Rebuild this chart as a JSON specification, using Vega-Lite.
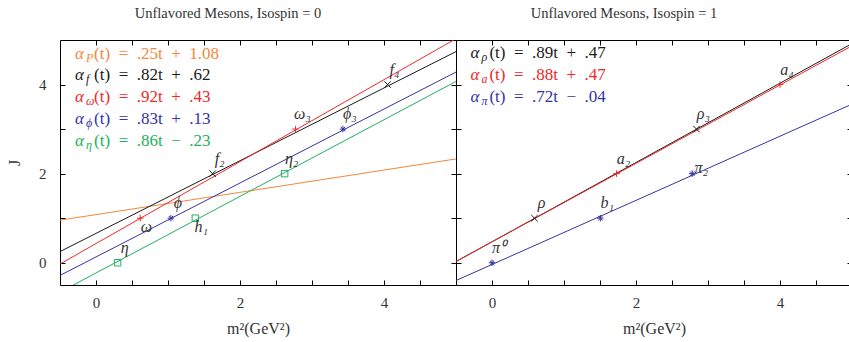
{
  "$schema": "https://vega.github.io/schema/vega-lite/v6.json",
  "background": "white",
  "padding": {"left": 6, "top": 5, "right": 0, "bottom": 0},
  "spacing": 0,
  "bounds": "flush",
  "config": {
    "view": {"stroke": "#000", "strokeWidth": 1},
    "font": "Liberation Serif",
    "axis": {"grid": false, "domain": false, "labelFont": "Liberation Serif", "titleFont": "Liberation Serif", "labelColor": "#333", "titleColor": "#333", "titleFontWeight": "normal", "tickColor": "#000", "tickWidth": 1},
    "title": {"font": "Liberation Serif", "fontSize": 14.5, "fontWeight": "normal", "color": "#333", "baseline": "alphabetic", "offset": 18, "anchor": "middle"}
  },
  "datasets": {
    "lines": [
      {"panel": "L", "series": "P", "x": -0.5, "J": 0.955}, {"panel": "L", "series": "P", "x": 5, "J": 2.33},
      {"panel": "L", "series": "f", "x": -0.5, "J": 0.25}, {"panel": "L", "series": "f", "x": 5, "J": 4.74},
      {"panel": "L", "series": "omega", "x": -0.5, "J": -0.03}, {"panel": "L", "series": "omega", "x": 5, "J": 5.03},
      {"panel": "L", "series": "phi", "x": -0.5, "J": -0.285}, {"panel": "L", "series": "phi", "x": 5, "J": 4.28},
      {"panel": "L", "series": "eta", "x": -0.5, "J": -0.66}, {"panel": "L", "series": "eta", "x": 5, "J": 4.07},
      {"panel": "R", "series": "rho", "x": -0.5, "J": 0.025}, {"panel": "R", "series": "rho", "x": 5, "J": 4.92},
      {"panel": "R", "series": "a", "x": -0.5, "J": 0.03}, {"panel": "R", "series": "a", "x": 5, "J": 4.87},
      {"panel": "R", "series": "pi", "x": -0.5, "J": -0.4}, {"panel": "R", "series": "pi", "x": 5, "J": 3.56}
    ],
    "points": [
      {"panel": "L", "series": "eta", "name": "η", "x": 0.30, "J": 0, "pos": "above"},
      {"panel": "L", "series": "eta", "name": "h₁", "x": 1.38, "J": 1, "pos": "below"},
      {"panel": "L", "series": "eta", "name": "η₂", "x": 2.62, "J": 2, "pos": "above"},
      {"panel": "L", "series": "omega", "name": "ω", "x": 0.615, "J": 1, "pos": "below"},
      {"panel": "L", "series": "omega", "name": "ω₃", "x": 2.77, "J": 3, "pos": "above"},
      {"panel": "L", "series": "phi", "name": "ϕ", "x": 1.04, "J": 1, "pos": "above"},
      {"panel": "L", "series": "phi", "name": "ϕ₃", "x": 3.43, "J": 3, "pos": "above"},
      {"panel": "L", "series": "f", "name": "f₂", "x": 1.62, "J": 2, "pos": "above"},
      {"panel": "L", "series": "f", "name": "f₄", "x": 4.05, "J": 4, "pos": "above"},
      {"panel": "R", "series": "pi", "name": "π⁰", "x": 0.0, "J": 0, "pos": "above"},
      {"panel": "R", "series": "pi", "name": "b₁", "x": 1.505, "J": 1, "pos": "above"},
      {"panel": "R", "series": "pi", "name": "π₂", "x": 2.78, "J": 2, "pos": "right"},
      {"panel": "R", "series": "rho", "name": "ρ", "x": 0.59, "J": 1, "pos": "above"},
      {"panel": "R", "series": "rho", "name": "ρ₃", "x": 2.84, "J": 3, "pos": "above"},
      {"panel": "R", "series": "a", "name": "a₂", "x": 1.73, "J": 2, "pos": "above"},
      {"panel": "R", "series": "a", "name": "a₄", "x": 4.0, "J": 4, "pos": "above"}
    ],
    "eqs": [
      {"panel": "L", "series": "P", "sub": "P", "rest": "(t)\u2002=\u2002.25t\u2002+\u20021.08", "x": -0.29, "J": 4.69},
      {"panel": "L", "series": "f", "sub": "f", "rest": "(t)\u2002=\u2002.82t\u2002+\u2002.62", "x": -0.29, "J": 4.22},
      {"panel": "L", "series": "omega", "sub": "ω", "rest": "(t)\u2002=\u2002.92t\u2002+\u2002.43", "x": -0.29, "J": 3.72},
      {"panel": "L", "series": "phi", "sub": "ϕ", "rest": "(t)\u2002=\u2002.83t\u2002+\u2002.13", "x": -0.29, "J": 3.23},
      {"panel": "L", "series": "eta", "sub": "η", "rest": "(t)\u2002=\u2002.86t\u2002\u2212\u2002.23", "x": -0.29, "J": 2.74},
      {"panel": "R", "series": "rho", "sub": "ρ", "rest": "(t)\u2002=\u2002.89t\u2002+\u2002.47", "x": -0.30, "J": 4.71},
      {"panel": "R", "series": "a", "sub": "a", "rest": "(t)\u2002=\u2002.88t\u2002+\u2002.47", "x": -0.30, "J": 4.21},
      {"panel": "R", "series": "pi", "sub": "π", "rest": "(t)\u2002=\u2002.72t\u2002\u2212\u2002.04", "x": -0.30, "J": 3.72}
    ]
  },
  "hconcat": [
    {
      "width": 396,
      "height": 245,
      "title": {"text": "Unflavored Mesons, Isospin = 0", "dx": -30},
      "resolve": {"axis": {"x": "independent", "y": "independent"}},
      "layer": [
        {
          "data": {"name": "lines"},
          "transform": [{"filter": "datum.panel == 'L'"}],
          "mark": {"type": "line", "clip": true, "strokeWidth": 1},
          "encoding": {
            "x": {"field": "x", "type": "quantitative", "scale": {"domain": [-0.5, 5], "nice": false, "zero": false},
              "axis": {"orient": "bottom", "values": [0, 2, 4], "ticks": false, "labelFontSize": 15, "labelPadding": 10, "title": "m²(GeV²)", "titleFontSize": 16, "titlePadding": 10}},
            "y": {"field": "J", "type": "quantitative", "scale": {"domain": [-0.5, 5], "nice": false, "zero": false},
              "axis": {"orient": "left", "values": [0, 2, 4], "ticks": false, "labelFontSize": 15, "labelPadding": 14, "title": "J", "titleFontSize": 16, "titlePadding": 16}},
            "color": {"field": "series", "type": "nominal", "legend": null,
              "scale": {"domain": ["P", "f", "omega", "phi", "eta", "rho", "a", "pi"], "range": ["#f4883c", "#1a1a1a", "#f0282a", "#3434a4", "#22b060", "#1a1a1a", "#f0282a", "#3434a4"]}}
          }
        },
        {
          "data": {"name": "points"},
          "transform": [{"filter": "datum.panel == 'L'"}],
          "mark": {"type": "point", "filled": false, "strokeWidth": 1, "size": 42, "opacity": 1},
          "encoding": {
            "x": {"field": "x", "type": "quantitative", "axis": {"orient": "bottom", "values": [0, 0.5, 1, 1.5, 2, 2.5, 3, 3.5, 4, 4.5], "labels": false, "tickSize": -5, "title": null}},
            "y": {"field": "J", "type": "quantitative", "axis": {"orient": "left", "values": [0, 1, 2, 3, 4], "labels": false, "tickSize": -5, "title": null}},
            "color": {"field": "series", "type": "nominal", "legend": null},
            "shape": {"field": "series", "type": "nominal", "legend": null,
              "scale": {"domain": ["f", "rho", "omega", "a", "phi", "pi", "eta"], "range": ["M-1,-1L1,1M-1,1L1,-1", "M-1,-1L1,1M-1,1L1,-1", "M-1,0L1,0M0,-1L0,1", "M-1,0L1,0M0,-1L0,1", "M-1,0L1,0M0,-1L0,1M-0.7,-0.7L0.7,0.7M-0.7,0.7L0.7,-0.7", "M-1,0L1,0M0,-1L0,1M-0.7,-0.7L0.7,0.7M-0.7,0.7L0.7,-0.7", "square"]}}
          }
        },
        {
          "data": {"name": "points"},
          "transform": [{"filter": "datum.panel == 'L' && datum.pos == 'above'"}],
          "mark": {"type": "text", "font": "Liberation Serif", "fontStyle": "italic", "fontSize": 16, "color": "#333", "dx": 7, "dy": -15, "align": "center", "baseline": "middle"},
          "encoding": {
            "x": {"field": "x", "type": "quantitative", "axis": {"orient": "top", "values": [0, 0.5, 1, 1.5, 2, 2.5, 3, 3.5, 4, 4.5], "labels": false, "tickSize": -5, "title": null}},
            "y": {"field": "J", "type": "quantitative", "axis": {"orient": "right", "values": [0, 1, 2, 3, 4], "labels": false, "tickSize": -5, "title": null}},
            "text": {"field": "name"}
          }
        },
        {
          "data": {"name": "points"},
          "transform": [{"filter": "datum.panel == 'L' && datum.pos == 'below'"}],
          "mark": {"type": "text", "font": "Liberation Serif", "fontStyle": "italic", "fontSize": 16, "color": "#333", "dx": 6, "dy": 9, "align": "center", "baseline": "middle"},
          "encoding": {
            "x": {"field": "x", "type": "quantitative", "axis": null},
            "y": {"field": "J", "type": "quantitative", "axis": null},
            "text": {"field": "name"}
          }
        },
        {
          "data": {"name": "eqs"},
          "transform": [{"filter": "datum.panel == 'L'"}],
          "mark": {"type": "text", "font": "Liberation Serif", "fontStyle": "italic", "fontSize": 17, "align": "left", "baseline": "middle"},
          "encoding": {
            "x": {"field": "x", "type": "quantitative", "axis": null},
            "y": {"field": "J", "type": "quantitative", "axis": null},
            "color": {"field": "series", "type": "nominal", "legend": null},
            "text": {"value": "α"}
          }
        },
        {
          "data": {"name": "eqs"},
          "transform": [{"filter": "datum.panel == 'L'"}],
          "mark": {"type": "text", "font": "Liberation Serif", "fontStyle": "italic", "fontSize": 12, "align": "left", "baseline": "middle", "dx": 11, "dy": 4},
          "encoding": {
            "x": {"field": "x", "type": "quantitative", "axis": null},
            "y": {"field": "J", "type": "quantitative", "axis": null},
            "color": {"field": "series", "type": "nominal", "legend": null},
            "text": {"field": "sub"}
          }
        },
        {
          "data": {"name": "eqs"},
          "transform": [{"filter": "datum.panel == 'L'"}],
          "mark": {"type": "text", "font": "Liberation Serif", "fontSize": 17, "align": "left", "baseline": "middle", "dx": 19},
          "encoding": {
            "x": {"field": "x", "type": "quantitative", "axis": null},
            "y": {"field": "J", "type": "quantitative", "axis": null},
            "color": {"field": "series", "type": "nominal", "legend": null},
            "text": {"field": "rest"}
          }
        }
      ]
    },
    {
      "width": 396,
      "height": 245,
      "title": {"text": "Unflavored Mesons, Isospin = 1", "dx": -30},
      "resolve": {"axis": {"x": "independent", "y": "independent"}},
      "layer": [
        {
          "data": {"name": "lines"},
          "transform": [{"filter": "datum.panel == 'R'"}],
          "mark": {"type": "line", "clip": true, "strokeWidth": 1},
          "encoding": {
            "x": {"field": "x", "type": "quantitative", "scale": {"domain": [-0.5, 5], "nice": false, "zero": false},
              "axis": {"orient": "bottom", "values": [0, 2, 4], "ticks": false, "labelFontSize": 15, "labelPadding": 10, "title": "m²(GeV²)", "titleFontSize": 16, "titlePadding": 10}},
            "y": {"field": "J", "type": "quantitative", "scale": {"domain": [-0.5, 5], "nice": false, "zero": false},
              "axis": {"orient": "left", "values": [0, 1, 2, 3, 4], "labels": false, "tickSize": -5, "title": null}},
            "color": {"field": "series", "type": "nominal", "legend": null}
          }
        },
        {
          "data": {"name": "points"},
          "transform": [{"filter": "datum.panel == 'R'"}],
          "mark": {"type": "point", "filled": false, "strokeWidth": 1, "size": 42, "opacity": 1},
          "encoding": {
            "x": {"field": "x", "type": "quantitative", "axis": {"orient": "bottom", "values": [0, 0.5, 1, 1.5, 2, 2.5, 3, 3.5, 4, 4.5], "labels": false, "tickSize": -5, "title": null}},
            "y": {"field": "J", "type": "quantitative", "axis": {"orient": "right", "values": [0, 1, 2, 3, 4], "labels": false, "tickSize": -5, "title": null}},
            "color": {"field": "series", "type": "nominal", "legend": null},
            "shape": {"field": "series", "type": "nominal", "legend": null}
          }
        },
        {
          "data": {"name": "points"},
          "transform": [{"filter": "datum.panel == 'R' && datum.pos == 'above'"}],
          "mark": {"type": "text", "font": "Liberation Serif", "fontStyle": "italic", "fontSize": 16, "color": "#333", "dx": 7, "dy": -15, "align": "center", "baseline": "middle"},
          "encoding": {
            "x": {"field": "x", "type": "quantitative", "axis": {"orient": "top", "values": [0, 0.5, 1, 1.5, 2, 2.5, 3, 3.5, 4, 4.5], "labels": false, "tickSize": -5, "title": null}},
            "y": {"field": "J", "type": "quantitative", "axis": null},
            "text": {"field": "name"}
          }
        },
        {
          "data": {"name": "points"},
          "transform": [{"filter": "datum.panel == 'R' && datum.pos == 'right'"}],
          "mark": {"type": "text", "font": "Liberation Serif", "fontStyle": "italic", "fontSize": 16, "color": "#333", "dx": 9, "dy": -6, "align": "center", "baseline": "middle"},
          "encoding": {
            "x": {"field": "x", "type": "quantitative", "axis": null},
            "y": {"field": "J", "type": "quantitative", "axis": null},
            "text": {"field": "name"}
          }
        },
        {
          "data": {"name": "eqs"},
          "transform": [{"filter": "datum.panel == 'R'"}],
          "mark": {"type": "text", "font": "Liberation Serif", "fontStyle": "italic", "fontSize": 17, "align": "left", "baseline": "middle"},
          "encoding": {
            "x": {"field": "x", "type": "quantitative", "axis": null},
            "y": {"field": "J", "type": "quantitative", "axis": null},
            "color": {"field": "series", "type": "nominal", "legend": null},
            "text": {"value": "α"}
          }
        },
        {
          "data": {"name": "eqs"},
          "transform": [{"filter": "datum.panel == 'R'"}],
          "mark": {"type": "text", "font": "Liberation Serif", "fontStyle": "italic", "fontSize": 12, "align": "left", "baseline": "middle", "dx": 11, "dy": 4},
          "encoding": {
            "x": {"field": "x", "type": "quantitative", "axis": null},
            "y": {"field": "J", "type": "quantitative", "axis": null},
            "color": {"field": "series", "type": "nominal", "legend": null},
            "text": {"field": "sub"}
          }
        },
        {
          "data": {"name": "eqs"},
          "transform": [{"filter": "datum.panel == 'R'"}],
          "mark": {"type": "text", "font": "Liberation Serif", "fontSize": 17, "align": "left", "baseline": "middle", "dx": 19},
          "encoding": {
            "x": {"field": "x", "type": "quantitative", "axis": null},
            "y": {"field": "J", "type": "quantitative", "axis": null},
            "color": {"field": "series", "type": "nominal", "legend": null},
            "text": {"field": "rest"}
          }
        }
      ]
    }
  ]
}
